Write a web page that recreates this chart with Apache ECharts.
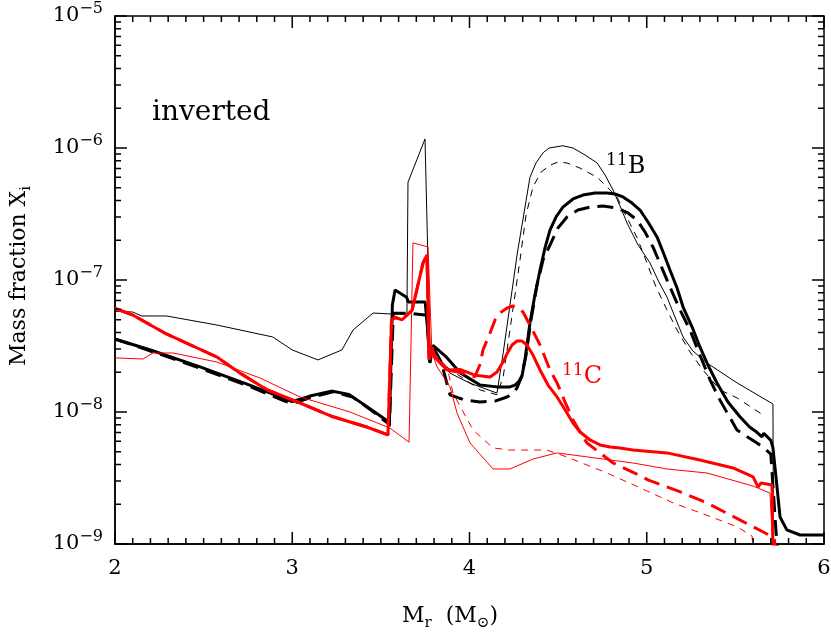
<!DOCTYPE html>
<html>
<head>
<meta charset="utf-8">
<script src="https://cdn.jsdelivr.net/npm/echarts@6.0.0/dist/echarts.min.js"></script>
<style>
html, body { margin: 0; padding: 0; background: #fff; }
#chart { width: 831px; height: 634px; }
</style>
</head>
<body>
<div id="chart"></div>
<script>
// axis ranges / ticks
const xMin = 2, xMax = 6;
const yDecades = [1e-9, 1e-8, 1e-7, 1e-6, 1e-5];

// 11B (black) : [M_r, X]
const bThickSolid = [
  [2.00, 3.57e-8], [2.20, 2.95e-8], [2.48, 2.20e-8], [2.76, 1.60e-8], [3.00, 1.20e-8],
  [3.10, 1.32e-8], [3.22, 1.44e-8], [3.32, 1.36e-8], [3.42, 1.10e-8], [3.54, 8.5e-9],
  [3.548, 8.0e-9], [3.565, 6.5e-8], [3.58, 8.4e-8], [3.645, 7.4e-8], [3.655, 6.8e-8],
  [3.75, 6.8e-8], [3.765, 4.0e-8], [3.777, 2.35e-8], [3.794, 3.2e-8], [3.87, 2.6e-8],
  [3.95, 1.97e-8], [4.06, 1.60e-8], [4.155, 1.55e-8], [4.228, 1.55e-8], [4.257, 1.60e-8],
  [4.279, 1.71e-8], [4.296, 1.87e-8], [4.313, 2.48e-8], [4.341, 4.72e-8], [4.369, 7.7e-8],
  [4.398, 1.19e-7], [4.426, 1.75e-7], [4.454, 2.39e-7], [4.488, 3.0e-7], [4.527, 3.57e-7],
  [4.584, 4.11e-7], [4.64, 4.4e-7], [4.708, 4.56e-7], [4.776, 4.56e-7], [4.821, 4.48e-7],
  [4.866, 4.26e-7], [4.917, 3.83e-7], [4.962, 3.39e-7], [5.007, 2.75e-7], [5.058, 2.12e-7],
  [5.092, 1.63e-7], [5.131, 1.19e-7], [5.171, 8.7e-8], [5.205, 6.24e-8], [5.256, 4.4e-8],
  [5.30, 3.11e-8], [5.345, 2.27e-8], [5.396, 1.66e-8], [5.458, 1.19e-8], [5.526, 9.2e-9],
  [5.58, 7.7e-9], [5.62, 7.05e-9], [5.65, 6.47e-9], [5.66, 6.9e-9], [5.70, 6.1e-9],
  [5.712, 5.34e-9], [5.735, 2.7e-9], [5.752, 1.6e-9], [5.79, 1.28e-9], [5.865, 1.17e-9],
  [6.00, 1.17e-9]
];
const bThickDash = [
  [2.00, 3.57e-8], [2.20, 2.90e-8], [2.48, 2.15e-8], [2.76, 1.56e-8], [2.95, 1.22e-8],
  [3.00, 1.16e-8], [3.10, 1.28e-8], [3.23, 1.42e-8], [3.34, 1.30e-8], [3.45, 1.02e-8],
  [3.54, 8.2e-9], [3.548, 7.8e-9], [3.57, 5.6e-8], [3.66, 5.6e-8], [3.76, 5.4e-8],
  [3.775, 2.4e-8], [3.80, 3.0e-8], [3.84, 2.4e-8], [3.89, 1.35e-8], [3.975, 1.23e-8],
  [4.059, 1.19e-8], [4.144, 1.21e-8], [4.212, 1.30e-8], [4.245, 1.39e-8], [4.268, 1.52e-8],
  [4.291, 1.81e-8], [4.319, 2.70e-8], [4.347, 4.98e-8], [4.381, 9.2e-8], [4.415, 1.42e-7],
  [4.454, 1.84e-7], [4.499, 2.48e-7], [4.55, 3.0e-7], [4.612, 3.39e-7], [4.68, 3.57e-7],
  [4.753, 3.64e-7], [4.832, 3.51e-7], [4.894, 3.22e-7], [4.945, 2.85e-7], [4.99, 2.31e-7],
  [5.035, 1.78e-7], [5.086, 1.23e-7], [5.131, 8.85e-8], [5.188, 5.93e-8], [5.244, 4.18e-8],
  [5.30, 2.70e-8], [5.357, 1.75e-8], [5.413, 1.23e-8], [5.509, 7.3e-9], [5.622, 5.82e-9],
  [5.661, 5.34e-9], [5.70, 4.8e-9], [5.73, 1.2e-9], [5.74, 9e-10]
];
const bThinSolid = [
  [2.00, 5.8e-8], [2.10, 5.72e-8], [2.15, 5.34e-8], [2.29, 5.34e-8], [2.575, 4.56e-8],
  [2.89, 3.70e-8], [3.00, 2.95e-8], [3.145, 2.48e-8], [3.28, 2.95e-8], [3.343, 4.18e-8],
  [3.456, 5.62e-8], [3.568, 5.52e-8], [3.647, 5.52e-8], [3.653, 5.5e-7], [3.749, 1.17e-6],
  [3.777, 3.22e-8], [3.89, 1.97e-8], [4.00, 1.66e-8], [4.155, 1.39e-8], [4.19, 2.8e-8],
  [4.27, 1.6e-7], [4.341, 6.0e-7], [4.375, 7.7e-7], [4.415, 9.2e-7], [4.449, 1.0e-6],
  [4.527, 1.04e-6], [4.584, 1.0e-6], [4.652, 8.85e-7], [4.72, 7.7e-7], [4.765, 6.24e-7],
  [4.81, 4.8e-7], [4.849, 3.64e-7], [4.889, 2.7e-7], [4.951, 1.84e-7], [5.018, 1.35e-7],
  [5.063, 1.0e-7], [5.114, 7.43e-8], [5.159, 5.25e-8], [5.205, 3.70e-8], [5.26, 2.9e-8],
  [5.34, 2.35e-8], [5.51, 1.66e-8], [5.712, 1.15e-8], [5.715, 9e-10]
];
const bThinDash = [
  [3.87, 2.2e-8], [4.06, 1.47e-8], [4.155, 1.35e-8], [4.19, 1.84e-8], [4.285, 1.42e-7],
  [4.319, 3.11e-7], [4.358, 5.07e-7], [4.404, 6.58e-7], [4.454, 7.4e-7], [4.499, 7.83e-7],
  [4.55, 7.7e-7], [4.623, 7.05e-7], [4.72, 6.0e-7], [4.776, 5.07e-7], [4.832, 4.26e-7],
  [4.889, 2.95e-7], [4.945, 2.1e-7], [5.001, 1.35e-7], [5.05, 9.0e-8], [5.114, 5.93e-8],
  [5.171, 4.18e-8], [5.244, 2.85e-8], [5.317, 2.08e-8], [5.413, 1.47e-8], [5.509, 1.28e-8],
  [5.656, 9.5e-9]
];

// 11C (red)
const rThickSolid = [
  [2.00, 6.1e-8], [2.10, 5.43e-8], [2.29, 3.9e-8], [2.575, 2.61e-8], [2.705, 1.97e-8],
  [2.86, 1.47e-8], [3.044, 1.17e-8], [3.23, 9.2e-9], [3.42, 7.7e-9], [3.54, 6.7e-9],
  [3.546, 6.6e-9], [3.56, 4.98e-8], [3.58, 5.2e-8], [3.62, 5.0e-8], [3.676, 5.9e-8],
  [3.738, 1.35e-7], [3.76, 1.55e-7], [3.772, 2.5e-8], [3.788, 3.1e-8], [3.805, 2.6e-8],
  [3.873, 2.08e-8], [3.946, 2.1e-8], [4.03, 1.9e-8], [4.116, 1.84e-8], [4.155, 2.01e-8],
  [4.189, 2.39e-8], [4.217, 2.85e-8], [4.24, 3.22e-8], [4.268, 3.45e-8], [4.296, 3.45e-8],
  [4.324, 3.22e-8], [4.358, 2.70e-8], [4.398, 2.08e-8], [4.443, 1.60e-8], [4.494, 1.30e-8],
  [4.539, 1.04e-8], [4.584, 8.25e-9], [4.624, 7.05e-9], [4.68, 6.14e-9], [4.736, 5.63e-9],
  [4.793, 5.43e-9], [4.849, 5.34e-9], [4.922, 5.15e-9], [5.114, 4.9e-9], [5.30, 4.33e-9],
  [5.487, 3.77e-9], [5.60, 3.22e-9], [5.628, 2.70e-9], [5.645, 2.9e-9], [5.707, 2.8e-9],
  [5.712, 9e-10]
];
const rThickDash = [
  [2.00, 6.1e-8], [2.10, 5.43e-8], [2.29, 3.9e-8], [2.575, 2.61e-8], [2.705, 1.97e-8],
  [2.86, 1.47e-8], [3.044, 1.17e-8], [3.23, 9.2e-9], [3.42, 7.7e-9], [3.54, 6.7e-9],
  [3.546, 6.6e-9], [3.56, 4.98e-8], [3.58, 5.2e-8], [3.62, 5.0e-8], [3.676, 5.9e-8],
  [3.738, 1.35e-7], [3.76, 1.55e-7], [3.772, 2.5e-8], [3.788, 3.1e-8], [3.805, 2.6e-8],
  [3.873, 2.08e-8], [3.946, 2.0e-8], [4.03, 1.85e-8], [4.06, 2.3e-8], [4.076, 2.95e-8],
  [4.116, 3.97e-8], [4.144, 4.98e-8], [4.172, 5.62e-8], [4.212, 6.14e-8], [4.245, 6.35e-8],
  [4.268, 6.24e-8], [4.302, 5.72e-8], [4.341, 4.56e-8], [4.398, 3.22e-8], [4.454, 2.08e-8],
  [4.494, 1.66e-8], [4.539, 1.19e-8], [4.584, 8.7e-9], [4.624, 7.05e-9], [4.663, 5.82e-9],
  [4.81, 4.11e-9], [4.96, 3.3e-9], [5.01, 3.05e-9], [5.19, 2.48e-9], [5.34, 2.05e-9],
  [5.47, 1.66e-9], [5.60, 1.35e-9], [5.70, 1.15e-9], [5.72, 1.1e-9], [5.725, 9e-10]
];
const rThinSolid = [
  [2.00, 2.57e-8], [2.158, 2.52e-8], [2.214, 2.8e-8], [2.327, 2.8e-8], [2.575, 2.39e-8],
  [2.818, 1.81e-8], [3.044, 1.3e-8], [3.326, 1.0e-8], [3.551, 7.56e-9], [3.659, 5.9e-9],
  [3.681, 1.91e-7], [3.766, 1.78e-7], [3.788, 2.8e-8], [3.817, 2.2e-8], [3.89, 1.55e-8],
  [3.93, 9.8e-9], [4.003, 5.82e-9], [4.133, 3.70e-9], [4.228, 3.70e-9], [4.358, 4.4e-9],
  [4.494, 4.9e-9], [4.922, 4.11e-9], [5.114, 3.70e-9], [5.34, 3.45e-9], [5.599, 2.75e-9],
  [5.695, 2.43e-9], [5.712, 9e-10]
];
const rThinDash = [
  [3.80, 2.8e-8], [3.873, 2.2e-8], [3.907, 1.39e-8], [4.02, 7.3e-9], [4.133, 5.34e-9],
  [4.228, 5.15e-9], [4.437, 5.15e-9], [4.55, 4.56e-9], [4.776, 3.45e-9], [4.98, 2.6e-9],
  [5.148, 2.05e-9], [5.34, 1.65e-9], [5.509, 1.35e-9], [5.594, 1.15e-9], [5.60, 9e-10]
];

const FONT = 'DejaVu Serif';
const RED = '#ff0000';
const GRID = { left: 115, right: 7, top: 16, bottom: 90, outerBoundsMode: 'none' };

// minor ticks of the log axis (2..9 in every decade)
const yMinor = [];
for (let i = 0; i < yDecades.length - 1; i++) {
  for (let m = 2; m <= 9; m++) yMinor.push(m * yDecades[i]);
}

function line(data, color, width, dash, z) {
  return {
    type: 'line',
    data: data,
    showSymbol: false,
    symbol: 'none',
    z: z,
    lineStyle: { color: color, width: width, type: dash || 'solid' }
  };
}

const chart = echarts.init(document.getElementById('chart'));

// inward tick marks on all four sides, as short segments in data space
const plotW = chart.getWidth() - GRID.left - GRID.right;
const plotH = chart.getHeight() - GRID.top - GRID.bottom;
const yLo = yDecades[0], yHi = yDecades[yDecades.length - 1];
const xPerPx = (xMax - xMin) / plotW;
const logPerPx = (Math.log10(yHi) - Math.log10(yLo)) / plotH;
const tickSegs = [];
for (let k = 0; k <= (xMax - xMin) * 10; k++) {
  const x = xMin + k / 10;
  const f = Math.pow(10, (k % 10 === 0 ? 12 : 6) * logPerPx);
  tickSegs.push([x, yLo], [x, yLo * f], ['-', '-']);
  tickSegs.push([x, yHi], [x, yHi / f], ['-', '-']);
}
yDecades.concat(yMinor).forEach(function (v) {
  const d = (yDecades.indexOf(v) >= 0 ? 12 : 6) * xPerPx;
  tickSegs.push([xMin, v], [xMin + d, v], ['-', '-']);
  tickSegs.push([xMax, v], [xMax - d, v], ['-', '-']);
});

const texts = [
  {
    type: 'text', x: 152, y: 113,
    style: { text: 'inverted', font: '28px "DejaVu Serif"', fill: '#000', verticalAlign: 'middle' }
  },
  {
    type: 'text', x: 606, y: 167,
    style: {
      text: '{s|11}{b|B}', verticalAlign: 'middle',
      rich: {
        b: { fontFamily: FONT, fontSize: 24, lineHeight: 30, fill: '#000' },
        s: { fontFamily: FONT, fontSize: 17, lineHeight: 8, verticalAlign: 'top', fill: '#000' }
      }
    }
  },
  {
    type: 'text', x: 562, y: 377,
    style: {
      text: '{s|11}{b|C}', verticalAlign: 'middle',
      rich: {
        b: { fontFamily: FONT, fontSize: 24, lineHeight: 30, fill: RED },
        s: { fontFamily: FONT, fontSize: 17, lineHeight: 6, verticalAlign: 'top', fill: RED }
      }
    }
  },
  {
    // x axis title
    type: 'text', x: 450, y: 616,
    style: {
      text: '{b|M}{s|r}{b|  (M}{s|⊙}{b|)}', align: 'center', verticalAlign: 'middle',
      rich: {
        b: { fontFamily: FONT, fontSize: 22, lineHeight: 30, fill: '#000' },
        s: { fontFamily: FONT, fontSize: 15, lineHeight: 10, verticalAlign: 'bottom', fill: '#000' }
      }
    }
  },
  {
    // y axis title
    type: 'text', x: 19, y: 276, rotation: Math.PI / 2,
    style: {
      text: '{b|Mass fraction X}{s|i}', align: 'center', verticalAlign: 'middle',
      rich: {
        b: { fontFamily: FONT, fontSize: 22, lineHeight: 30, fill: '#000' },
        s: { fontFamily: FONT, fontSize: 15, lineHeight: 10, verticalAlign: 'bottom', fill: '#000' }
      }
    }
  }
];

const option = {
  animation: false,
  grid: Object.assign({
    show: true, borderColor: '#000', borderWidth: 1.5, backgroundColor: 'transparent'
  }, GRID),
  xAxis: {
    type: 'value',
    min: xMin,
    max: xMax,
    interval: 1,
    axisLine: { show: true, lineStyle: { color: '#000', width: 1.5 } },
    axisTick: { show: false },
    splitLine: { show: false },
    axisLabel: { color: '#000', fontFamily: FONT, fontSize: 21, margin: 14 }
  },
  yAxis: {
    type: 'log',
    logBase: 10,
    min: yLo,
    max: yHi,
    axisLine: { show: true, lineStyle: { color: '#000', width: 1.5 } },
    axisTick: { show: false },
    splitLine: { show: false },
    axisLabel: {
      margin: 12,
      formatter: function (v) {
        const e = Math.round(Math.log10(v));
        return '{b|10}{s|' + (e < 0 ? '\u2212' : '') + Math.abs(e) + '}';
      },
      rich: {
        b: { fontFamily: FONT, fontSize: 21, lineHeight: 30, color: '#000' },
        s: { fontFamily: FONT, fontSize: 16, lineHeight: 10, verticalAlign: 'top', color: '#000' }
      }
    }
  },
  graphic: texts,
  series: [
    line(bThinSolid, '#000', 1, 'solid', 2),
    line(bThinDash, '#000', 1, [7, 6], 2),
    line(bThickSolid, '#000', 3, 'solid', 3),
    line(bThickDash, '#000', 3, [16, 8], 3),
    line(rThinSolid, RED, 1, 'solid', 4),
    line(rThinDash, RED, 1, [7, 6], 4),
    line(rThickSolid, RED, 3, 'solid', 5),
    line(rThickDash, RED, 3, [16, 8], 5),
    {
      type: 'line',
      data: tickSegs,
      showSymbol: false,
      symbol: 'none',
      connectNulls: false,
      clip: false,
      silent: true,
      z: 6,
      lineStyle: { color: '#000', width: 1.5, type: 'solid' }
    }
  ]
};

chart.setOption(option);
</script>
</body>
</html>
